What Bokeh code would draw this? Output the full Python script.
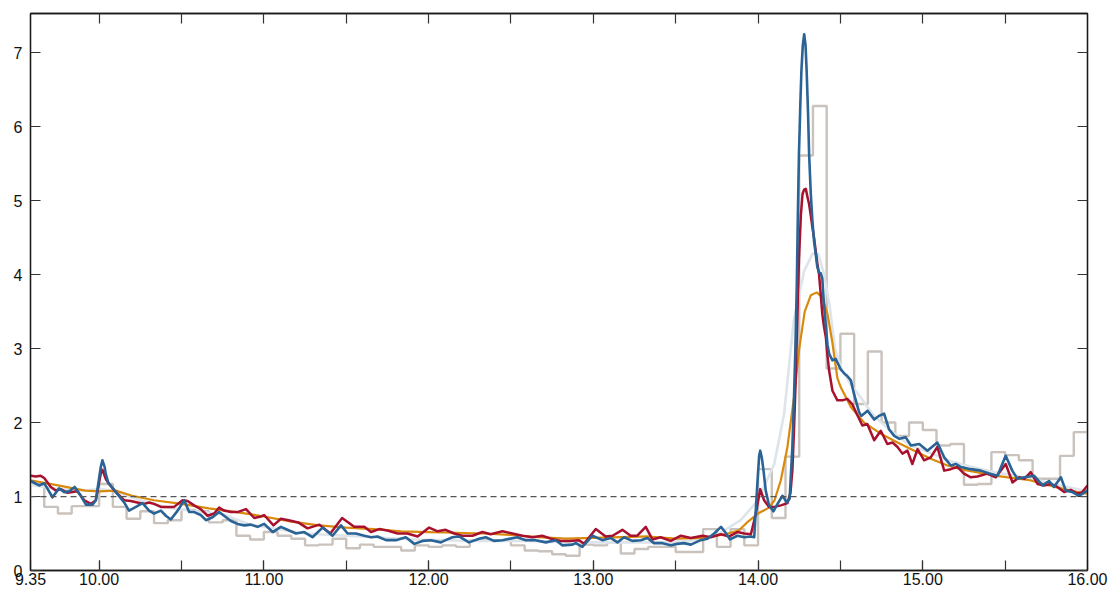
from bokeh.plotting import figure
from bokeh.models import FixedTicker, LinearAxis, Range1d, Span, CustomJSTickFormatter
from bokeh.embed import file_html
from bokeh.resources import INLINE

# time axis in minutes after midnight (9:35 = 575, 16:00 = 960)
hist_start = 575
hist_width = 5
hist_vals = [1.17, 0.86, 0.77, 0.87, 0.87, 1.17, 0.86, 0.70, 0.80, 0.64,
             0.68, 0.82, 0.80, 0.65, 0.68, 0.47, 0.42, 0.52, 0.47, 0.43,
             0.34, 0.35, 0.43, 0.30, 0.35, 0.32, 0.32, 0.27, 0.34, 0.32,
             0.34, 0.32, 0.41, 0.41, 0.41, 0.34, 0.27, 0.26, 0.22, 0.20,
             0.35, 0.34, 0.38, 0.23, 0.29, 0.32, 0.32, 0.25, 0.25, 0.56,
             0.32, 0.56, 0.34, 1.37, 0.71, 1.54, 5.61, 6.28, 2.73, 3.20,
             2.25, 2.96, 2.00, 1.82, 2.00, 1.90, 1.69, 1.71, 1.16, 1.17,
             1.60, 1.56, 1.49, 1.24, 1.24, 1.55, 1.87]

pale_t = [575, 585, 595, 600, 605, 615, 625, 635, 645, 655, 665, 675, 685, 695,
          705, 715, 725, 735, 745, 755, 765, 775, 785, 795, 805, 815, 825, 833.7,
          840, 845.9, 849.5, 853, 856.8, 859.8, 861.9, 864, 866, 868, 870.1, 874,
          877.4, 882, 888, 895, 902, 910, 918, 926, 934, 942, 950, 960]
pale_v = [1.16, 1.10, 1.08, 1.10, 1.08, 0.95, 0.85, 0.80, 0.76, 0.62, 0.56, 0.50,
          0.48, 0.46, 0.44, 0.42, 0.41, 0.40, 0.40, 0.40, 0.39, 0.38, 0.38, 0.38,
          0.38, 0.40, 0.48, 0.68, 0.95, 1.44, 2.12, 3.38, 4.05, 4.28, 4.28, 4.01,
          3.60, 3.00, 2.75, 2.50, 2.34, 2.10, 1.90, 1.70, 1.60, 1.48, 1.40, 1.33,
          1.28, 1.22, 1.15, 1.07]

orange_t = [575, 585, 595, 600, 606, 612, 620, 630, 640, 650, 660, 670, 680, 690,
            700, 710, 720, 730, 740, 750, 760, 770, 780, 790, 800, 810, 820, 828,
            833, 836, 840, 844, 846, 848.3, 850.7, 853.1, 855, 857, 859.2, 861.4,
            863.4, 865.3, 867, 868.9, 870.1, 873.8, 878.6, 884.7, 890.8, 896.9,
            902.9, 909, 915, 921, 927, 933, 939, 945, 951.5, 957.5, 960]
orange_v = [1.22, 1.15, 1.08, 1.07, 1.08, 1.01, 0.95, 0.90, 0.84, 0.79, 0.73, 0.66,
            0.61, 0.58, 0.56, 0.53, 0.52, 0.51, 0.50, 0.48, 0.45, 0.43, 0.44, 0.45,
            0.46, 0.43, 0.44, 0.49, 0.54, 0.65, 0.77, 0.85, 0.95, 1.22, 1.67, 2.34,
            3.00, 3.50, 3.72, 3.76, 3.69, 3.47, 3.10, 2.60, 2.48, 2.21, 2.00, 1.85,
            1.73, 1.62, 1.51, 1.42, 1.36, 1.32, 1.28, 1.25, 1.22, 1.16, 1.10, 1.05,
            1.04]

red_t = [575.1, 576.9, 578.7, 580.0, 582.4, 584.2, 586.0, 588.5, 590.3, 592.1,
         594.6, 597.0, 598.8, 600.6, 601.2, 602.4, 603.6, 606.1, 609.1, 611.5,
         613.9, 616.4, 618.2, 620.0, 622.5, 624.9, 627.3, 630.4, 632.2, 634.6,
         637.0, 639.5, 641.9, 643.7, 645.5, 648.0, 650.4, 653.5, 656.5, 658.9,
         660.1, 663.5, 666.2, 669.0, 672.5, 675.9, 680.2, 684.2, 688.5, 692.9,
         696.6, 699.0, 702.0, 705.0, 708.7, 712.3, 716.0, 720.2, 723.3, 726.2,
         729.3, 732.3, 736.0, 739.6, 742.6, 746.9, 750.5, 754.2, 757.8, 761.4,
         764.5, 768.1, 771.2, 774.8, 776.6, 780.9, 784.5, 787.0, 790.6, 793.6,
         796.0, 799.1, 801.5, 804.5, 808.2, 811.9, 815.5, 819.8, 822.8, 826.4,
         829.5, 832.5, 835.0, 837.4, 839.2, 840.8, 842.2, 844.0, 846.0, 848.3,
         850.7, 851.8, 852.5, 853.1, 853.7, 854.3, 854.9, 855.6, 856.2, 856.8,
         857.4, 858.0, 858.6, 859.2, 859.8, 860.4, 861.0, 861.6, 862.2, 862.8,
         863.4, 864.0, 864.7, 865.3, 865.9, 867.1, 868.9, 870.7, 872.5, 874.3,
         876.2, 878.0, 879.8, 882.3, 884.7, 887.1, 889.0, 890.8, 892.6, 894.4,
         896.2, 898.1, 900.5, 902.9, 905.3, 907.8, 910.2, 912.6, 915.0, 917.5,
         919.9, 923.5, 926.6, 930.2, 932.7, 935.1, 937.0, 939.3, 941.8, 944.2,
         946.6, 949.0, 951.5, 953.9, 956.3, 958.1, 960.0]
red_v = [1.28, 1.27, 1.28, 1.25, 1.13, 1.08, 1.10, 1.05, 1.06, 1.07,
         0.95, 0.90, 0.95, 1.31, 1.36, 1.24, 1.17, 1.06, 0.95, 0.94,
         0.92, 0.90, 0.92, 0.90, 0.86, 0.86, 0.86, 0.95, 0.94, 0.88,
         0.83, 0.74, 0.77, 0.85, 0.81, 0.79, 0.79, 0.83, 0.71, 0.73,
         0.75, 0.61, 0.70, 0.68, 0.65, 0.57, 0.62, 0.50, 0.71, 0.59,
         0.59, 0.52, 0.56, 0.54, 0.50, 0.50, 0.46, 0.58, 0.53, 0.55,
         0.50, 0.47, 0.47, 0.52, 0.49, 0.53, 0.50, 0.47, 0.45, 0.47,
         0.43, 0.40, 0.40, 0.41, 0.36, 0.56, 0.46, 0.47, 0.55, 0.47,
         0.47, 0.59, 0.42, 0.45, 0.40, 0.47, 0.44, 0.47, 0.45, 0.49,
         0.46, 0.52, 0.50, 0.49, 0.77, 1.10, 0.95, 0.86, 0.86, 0.88,
         0.91, 1.05, 1.35, 1.90, 2.57, 3.40, 4.20, 4.80, 5.09, 5.15,
         5.16, 5.05, 4.95, 4.80, 4.64, 4.50, 4.32, 4.15, 4.01, 3.75,
         3.47, 3.30, 3.15, 2.90, 2.70, 2.43, 2.30, 2.30, 2.32, 2.25,
         2.10, 1.96, 1.98, 1.76, 1.89, 1.71, 1.73, 1.67, 1.58, 1.62,
         1.44, 1.64, 1.49, 1.53, 1.67, 1.35, 1.37, 1.40, 1.31, 1.26,
         1.27, 1.31, 1.26, 1.44, 1.19, 1.26, 1.24, 1.33, 1.17, 1.15,
         1.17, 1.13, 1.06, 1.09, 1.04, 1.06, 1.15]

blue_t = [575.1, 578.1, 580.0, 583.0, 585.4, 587.3, 589.1, 591.1, 593.3, 595.2,
          597.6, 598.8, 600.0, 600.6, 601.2, 602.0, 602.4, 603.3, 606.1, 609.1,
          610.9, 613.4, 615.8, 618.2, 620.0, 622.5, 624.3, 626.1, 628.6, 631.0,
          632.8, 634.6, 637.0, 638.9, 641.3, 643.7, 645.5, 648.0, 650.4, 652.9,
          655.3, 657.7, 660.1, 663.2, 666.2, 669.2, 671.7, 674.7, 677.7, 681.4,
          685.0, 688.1, 690.5, 693.5, 696.6, 699.0, 701.4, 704.5, 708.1, 711.7,
          714.8, 717.8, 720.8, 724.5, 726.2, 728.7, 731.1, 734.7, 738.4, 740.8,
          743.8, 746.9, 752.3, 755.4, 759.0, 762.7, 766.3, 768.7, 772.4, 773.6,
          776.0, 779.7, 783.3, 786.3, 788.8, 791.2, 794.2, 797.3, 799.7, 802.1,
          805.2, 808.2, 810.6, 813.0, 815.5, 819.1, 821.6, 824.0, 826.5, 828.0,
          829.8, 832.5, 835.0, 837.4, 838.6, 839.6, 840.4, 840.8, 841.4, 842.0,
          842.8, 844.0, 845.6, 847.1, 848.9, 850.5, 851.5, 852.5, 853.1, 853.6,
          854.1, 854.5, 854.9, 855.4, 855.8, 856.3, 856.8, 857.3, 857.7, 858.2,
          858.6, 859.2, 859.8, 860.4, 861.0, 861.6, 862.2, 862.8, 863.4, 864.0,
          864.7, 865.3, 865.9, 867.1, 868.3, 870.1, 871.5, 872.5, 873.8, 875.0,
          876.8, 877.6, 879.9, 882.3, 884.0, 885.9, 887.7, 889.6, 891.5, 893.8,
          895.7, 898.7, 901.7, 905.3, 907.8, 910.2, 912.0, 913.8, 917.5, 921.1,
          924.2, 927.2, 930.2, 932.6, 934.5, 937.0, 940.6, 943.6, 946.0, 947.8,
          950.3, 952.1, 954.5, 956.9, 960.0]
blue_v = [1.21, 1.15, 1.18, 0.99, 1.11, 1.06, 1.07, 1.13, 1.01, 0.89,
          0.89, 0.95, 1.25, 1.40, 1.49, 1.40, 1.31, 1.19, 1.06, 0.92,
          0.81, 0.86, 0.91, 0.81, 0.77, 0.81, 0.74, 0.69, 0.81, 0.95,
          0.79, 0.79, 0.75, 0.68, 0.72, 0.79, 0.74, 0.67, 0.63, 0.61,
          0.62, 0.59, 0.63, 0.52, 0.59, 0.54, 0.50, 0.52, 0.45, 0.58,
          0.47, 0.61, 0.50, 0.50, 0.47, 0.45, 0.46, 0.41, 0.41, 0.45,
          0.36, 0.40, 0.41, 0.38, 0.41, 0.45, 0.46, 0.38, 0.43, 0.45,
          0.40, 0.41, 0.45, 0.41, 0.41, 0.38, 0.41, 0.34, 0.35, 0.37,
          0.32, 0.47, 0.41, 0.44, 0.38, 0.45, 0.40, 0.41, 0.44, 0.37,
          0.37, 0.34, 0.36, 0.37, 0.35, 0.41, 0.43, 0.50, 0.59, 0.52,
          0.42, 0.47, 0.45, 0.46, 0.45, 1.08, 1.55, 1.62, 1.52, 1.35,
          1.08, 0.88, 0.80, 0.90, 1.01, 0.92, 0.97, 1.67, 2.34, 3.00,
          3.83, 4.80, 5.63, 6.30, 6.76, 7.10, 7.25, 7.10, 6.76, 6.20,
          5.63, 5.10, 4.73, 4.45, 4.28, 4.10, 4.03, 4.02, 3.95, 3.60,
          3.30, 3.05, 2.93, 2.84, 2.86, 2.72, 2.66, 2.63, 2.57, 2.38,
          2.14, 2.09, 2.16, 2.04, 2.09, 2.12, 1.91, 1.82, 1.78, 1.80,
          1.69, 1.71, 1.62, 1.73, 1.53, 1.42, 1.44, 1.40, 1.37, 1.35,
          1.31, 1.28, 1.55, 1.35, 1.24, 1.26, 1.28, 1.15, 1.21, 1.13,
          1.26, 1.08, 1.06, 1.01, 1.08]

hour_ticks = [575, 600, 660, 720, 780, 840, 900, 960]
hour_labels = ["9.35", "10.00", "11.00", "12.00", "13.00", "14.00", "15.00", "16.00"]
half_ticks = [600, 630, 660, 690, 720, 750, 780, 810, 840, 870, 900, 930]
y_ticks = [0, 1, 2, 3, 4, 5, 6, 7]
baseline = 1.0

FONT = "Liberation Sans"

p = figure(width=1116, height=592, output_backend="svg", toolbar_location=None,
           x_range=Range1d(575, 960), y_range=Range1d(0, 7.53),
           min_border_left=30, min_border_right=29, min_border_top=13,
           min_border_bottom=22)
p.background_fill_color = "white"
p.border_fill_color = "white"
p.outline_line_color = "#1a1a1a"
p.outline_line_width = 1.3
p.xgrid.visible = False
p.ygrid.visible = False

# bottom axis
xa = p.xaxis[0]
xa.ticker = FixedTicker(ticks=hour_ticks, minor_ticks=half_ticks)
xa.major_label_overrides = {t: l for t, l in zip(hour_ticks, hour_labels)}
xa.major_tick_in = 10
xa.major_tick_out = 0
xa.minor_tick_in = 10
xa.minor_tick_out = 0
xa.major_tick_line_color = "#333333"
xa.minor_tick_line_color = "#333333"
xa.major_tick_line_width = 1.2
xa.minor_tick_line_width = 1.2
xa.axis_line_color = "#1a1a1a"
xa.axis_line_width = 1.3
xa.major_label_text_font = FONT
xa.major_label_text_font_size = "16px"
xa.major_label_text_color = "#111111"
xa.major_label_standoff = 2

# left axis
ya = p.yaxis[0]
ya.ticker = FixedTicker(ticks=y_ticks)
ya.major_tick_in = 10
ya.major_tick_out = 0
ya.minor_tick_in = 0
ya.minor_tick_out = 0
ya.major_tick_line_color = "#333333"
ya.major_tick_line_width = 1.2
ya.axis_line_color = "#1a1a1a"
ya.axis_line_width = 1.3
ya.major_label_text_font = FONT
ya.major_label_text_font_size = "16px"
ya.major_label_text_color = "#111111"
ya.major_label_standoff = 8

# top axis: ticks only
ta = LinearAxis(ticker=FixedTicker(ticks=[], minor_ticks=half_ticks + [900, 930]),
                major_tick_in=0, major_tick_out=0, minor_tick_in=10, minor_tick_out=0,
                minor_tick_line_color="#333333", minor_tick_line_width=1.2,
                axis_line_color="#1a1a1a", axis_line_width=1.3,
                major_label_text_font_size="1px")
p.add_layout(ta, "above")

# right axis: ticks only
ra = LinearAxis(ticker=FixedTicker(ticks=[], minor_ticks=y_ticks),
                major_tick_in=0, major_tick_out=0, minor_tick_in=10, minor_tick_out=0,
                minor_tick_line_color="#333333", minor_tick_line_width=1.2,
                axis_line_color="#1a1a1a", axis_line_width=1.3,
                major_label_text_font_size="1px")
p.add_layout(ra, "right")

# histogram as step line
hx = [hist_start + hist_width * i for i in range(len(hist_vals))] + [960]
hy = hist_vals + [hist_vals[-1]]
p.step(hx, hy, mode="after", line_color="#c9c2bd", line_width=2.4)

p.line(pale_t, pale_v, line_color="#dde4ea", line_width=2.6)
p.line(orange_t, orange_v, line_color="#d98a0c", line_width=2.2)

span = Span(location=baseline, dimension="width", line_color="#555555",
            line_width=1.3, line_dash="6 4")
p.add_layout(span)

p.line(red_t, red_v, line_color="#a8112e", line_width=2.5, line_join="round")
p.line(blue_t, blue_v, line_color="#2a6395", line_width=2.6, line_join="round")

open("out.html", "w").write(file_html(p, INLINE))
